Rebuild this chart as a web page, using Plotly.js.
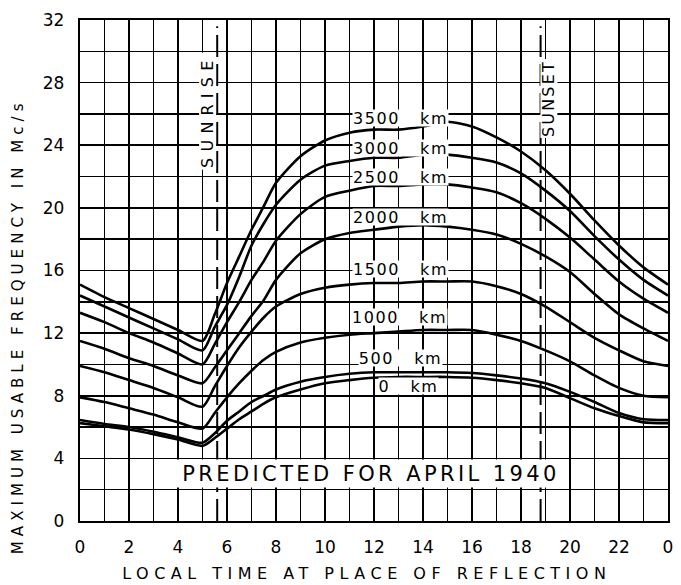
<!DOCTYPE html>
<html><head><meta charset="utf-8">
<script src="https://cdn.plot.ly/plotly-3.0.1.min.js"></script>
<style>html,body{margin:0;padding:0;background:#fff}</style>
</head><body><div id="chart" style="width:681px;height:585px"></div>
<script>
// Local time (hours)
const hours = [0,1,2,3,4,5,5.5,6,6.5,7,7.5,8,9,10,11,12,13,14,15,16,17,18,19,20,21,22,23,24];
// Maximum usable frequency (Mc/s) for each distance
const muf3500 = [15.1,14.3,13.6,12.9,12.2,11.5,13.2,15.2,16.9,18.6,20.1,21.6,23.3,24.3,24.8,25.0,25.0,25.2,25.5,25.2,24.5,23.6,22.4,20.9,19.2,17.6,16.2,15.1];
const muf3000 = [14.4,13.7,13.0,12.3,11.6,10.9,12.4,13.8,15.6,17.6,19.0,20.2,21.8,22.7,23.0,23.2,23.2,23.4,23.4,23.2,22.9,22.2,21.1,19.8,18.2,16.7,15.4,14.4];
const muf2500 = [13.3,12.7,12.0,11.4,10.7,10.0,11.3,12.7,14.0,15.4,16.6,17.9,19.6,20.7,21.1,21.4,21.4,21.5,21.5,21.3,21.0,20.3,19.3,18.1,16.7,15.3,14.2,13.3];
const muf2000 = [11.5,11.0,10.4,9.9,9.3,8.8,9.8,10.9,12.0,13.1,14.1,15.4,17.1,18.0,18.4,18.6,18.8,18.9,18.8,18.6,18.3,17.7,16.9,15.9,14.5,13.2,12.3,11.5];
const muf1500 = [9.9,9.5,9.0,8.5,7.9,7.3,8.6,9.9,11.1,12.1,13.0,13.7,14.5,14.9,15.1,15.2,15.2,15.3,15.3,15.3,15.0,14.5,13.7,12.7,11.7,10.9,10.2,9.9];
const muf1000 = [7.9,7.6,7.2,6.8,6.3,5.9,6.9,7.9,8.8,9.6,10.3,10.8,11.4,11.7,11.9,12.0,12.1,12.2,12.2,12.2,11.9,11.5,10.9,10.2,9.3,8.5,8.0,7.9];
const muf500  = [6.45,6.2,6.0,5.7,5.35,5.0,5.6,6.4,7.0,7.6,8.0,8.4,8.9,9.2,9.4,9.5,9.5,9.5,9.5,9.45,9.3,9.1,8.8,8.25,7.6,6.9,6.5,6.45];
const muf0    = [6.25,6.05,5.85,5.55,5.2,4.8,5.3,5.9,6.5,7.0,7.5,7.9,8.4,8.8,9.0,9.15,9.2,9.2,9.2,9.15,9.0,8.8,8.5,7.85,7.2,6.7,6.3,6.25];
const seriesNames = ['3500 km','3000 km','2500 km','2000 km','1500 km','1000 km','500 km','0 km'];
const seriesValues = [muf3500,muf3000,muf2500,muf2000,muf1500,muf1000,muf500,muf0];
// Tick labels
const xTickVals = [0,2,4,6,8,10,12,14,16,18,20,22,24];
const xTickText = ['0','2','4','6','8','10','12','14','16','18','20','22','0'];
const yTickVals = [0,4,8,12,16,20,24,28,32];
// Event times
const sunriseHour = 5.6;
const sunsetHour = 18.8;

const FONT = 'DejaVu Sans, Arial, sans-serif';
const NB = '\u00a0';

const traces = seriesValues.map((vals, i) => ({
  x: hours, y: vals, type: 'scatter', mode: 'lines', name: seriesNames[i],
  line: {color: '#000', width: 2.6, shape: 'spline', smoothing: 0.7},
  hoverinfo: 'skip'
}));

const labelPos = [
  [13.1, 25.75], [13.1, 23.8], [13.1, 22.0], [13.1, 19.4],
  [13.1, 16.1], [13.06, 13.0], [13.1, 10.4], [13.4, 8.6]
];
const annotations = [];
const spacing = [];
seriesNames.forEach((nm, i) => {
  const parts = nm.split(' ');
  annotations.push({
    x: labelPos[i][0], y: labelPos[i][1], xref: 'x', yref: 'y',
    xanchor: 'center', yanchor: 'middle',
    text: parts[0] + NB + NB + NB + parts[1], showarrow: false,
    font: {family: FONT, size: 16, color: '#000'},
    bgcolor: '#fff', borderpad: 0, width: parts[0].length * 12 + 47, height: 16
  });
  spacing.push(1.6);
});
annotations.push({
  x: 11.88, y: 3.05, xref: 'x', yref: 'y', xanchor: 'center', yanchor: 'middle',
  text: 'PREDICTED FOR APRIL 1940', showarrow: false,
  font: {family: FONT, size: 21, color: '#000'}, bgcolor: '#fff', borderpad: 0, width: 390, height: 27
});
spacing.push(3.4);
annotations.push({
  x: 5.2, y: 26.2, xref: 'x', yref: 'y', xanchor: 'center', yanchor: 'middle',
  text: 'SUNRISE', showarrow: false, textangle: -90,
  font: {family: FONT, size: 16, color: '#000'}, bgcolor: '#fff', borderpad: 0, width: 116, height: 16
});
spacing.push(6.2);
annotations.push({
  x: 19.15, y: 27.0, xref: 'x', yref: 'y', xanchor: 'center', yanchor: 'middle',
  text: 'SUNSET', showarrow: false, textangle: -90,
  font: {family: FONT, size: 16, color: '#000'}, bgcolor: '#fff', borderpad: 0, width: 78, height: 16
});
spacing.push(2.2);
annotations.push({
  x: -0.105, y: 0.389, xref: 'paper', yref: 'paper', xanchor: 'center', yanchor: 'middle',
  text: 'MAXIMUM USABLE FREQUENCY IN Mc/s',
  showarrow: false, textangle: -90, font: {family: FONT, size: 15, color: '#000'}
});
spacing.push(5.05);
annotations.push({
  x: 0.488, y: -0.104, xref: 'paper', yref: 'paper', xanchor: 'center', yanchor: 'middle',
  text: 'LOCAL TIME AT PLACE OF REFLECTION',
  showarrow: false, font: {family: FONT, size: 16, color: '#000'}
});
spacing.push(5.5);

const dashLine = (h) => ({
  type: 'line', xref: 'x', yref: 'y', x0: h, x1: h, y0: 0, y1: 31.6,
  line: {color: '#000', width: 2, dash: '22px,7px'}, layer: 'above'
});

const axisCommon = {
  showgrid: true, gridcolor: '#000', gridwidth: 1.6, zeroline: false,
  showline: true, linecolor: '#000', linewidth: 2.2, mirror: true,
  ticks: '', tickfont: {family: FONT, size: 17, color: '#000'}
};

const layout = {
  width: 681, height: 585,
  margin: {l: 80, r: 13, t: 20, b: 64},
  paper_bgcolor: '#fff', plot_bgcolor: '#fff',
  showlegend: false,
  xaxis: Object.assign({}, axisCommon, {
    range: [0, 24], tickmode: 'array', tickvals: xTickVals, ticktext: xTickText,
    ticklabelstandoff: 9,
    minor: {dtick: 1, showgrid: true, gridcolor: '#000', gridwidth: 1.6, ticks: ''}
  }),
  yaxis: Object.assign({}, axisCommon, {
    range: [0, 32], tickmode: 'array', tickvals: yTickVals, ticktext: yTickVals.map(String),
    ticklabelstandoff: 10,
    minor: {dtick: 2, showgrid: true, gridcolor: '#000', gridwidth: 1.6, ticks: ''}
  }),
  shapes: [dashLine(sunriseHour), dashLine(sunsetHour)],
  annotations: annotations
};

Plotly.newPlot('chart', traces, layout, {staticPlot: true, displayModeBar: false}).then(() => {
  const els = document.querySelectorAll('#chart .annotation');
  els.forEach((el, i) => {
    const t = el.querySelector('.annotation-text');
    if (t && spacing[i]) t.style.letterSpacing = spacing[i] + 'px';
  });
});
</script></body></html>
